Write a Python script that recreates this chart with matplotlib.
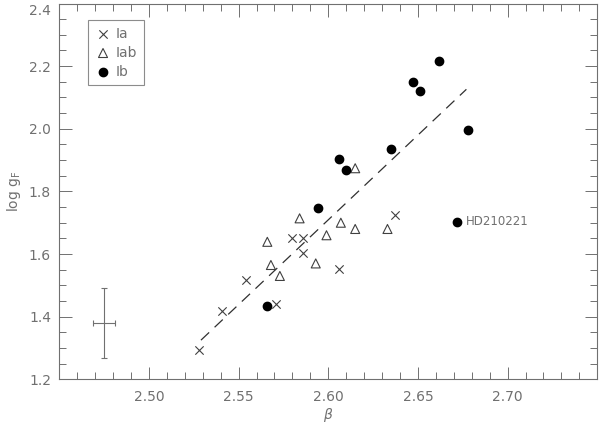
import numpy as np
import matplotlib
matplotlib.use("Agg")
import matplotlib.pyplot as plt
from matplotlib.ticker import MultipleLocator

# Ia supergiants (crosses)
ia_beta = [2.528, 2.541, 2.554, 2.571, 2.580, 2.586, 2.586, 2.606, 2.637]
ia_logg = [1.293, 1.419, 1.517, 1.440, 1.650, 1.650, 1.604, 1.552, 1.725]

# Iab supergiants (triangles)
iab_beta = [2.566, 2.568, 2.573, 2.584, 2.593, 2.599, 2.607, 2.615, 2.615, 2.633]
iab_logg = [1.639, 1.565, 1.530, 1.714, 1.570, 1.660, 1.700, 1.680, 1.874, 1.680]

# Ib supergiants (filled circles)
ib_beta = [2.566, 2.594, 2.606, 2.610, 2.635, 2.647, 2.651, 2.662, 2.678, 2.672]
ib_logg = [1.434, 1.748, 1.905, 1.867, 1.935, 2.150, 2.120, 2.218, 1.995, 1.703]

# linear fit (dashed)
fit_beta = [2.529, 2.677]
fit_logg = [1.325, 2.126]

# typical error bar
err_beta, err_logg = 2.475, 1.379
err_dbeta, err_dlogg = 0.006, 0.112

xticks = [2.50, 2.55, 2.60, 2.65, 2.70]
yticks = [1.2, 1.4, 1.6, 1.8, 2.0, 2.2, 2.4]

grey = '#707070'

fig = plt.figure(figsize=(6, 4.28), dpi=100)
ax = fig.add_axes([0.0988, 0.1138, 0.8967, 0.878])

ax.plot(fit_beta, fit_logg, color='#303030', lw=0.9, dashes=(9, 6))
ax.scatter(ia_beta, ia_logg, marker='x', s=36, color='#404040', lw=0.8, label='Ia')
ax.scatter(iab_beta, iab_logg, marker='^', s=42, facecolors='none',
           edgecolors='#404040', lw=0.8, label='Iab')
ax.scatter(ib_beta, ib_logg, marker='o', s=36, color='black', label='Ib')
ax.errorbar(err_beta, err_logg, xerr=err_dbeta, yerr=err_dlogg, color=grey,
            lw=0.8, capsize=2.5, capthick=0.8)

ax.text(ib_beta[-1] + 0.0045, ib_logg[-1], 'HD210221', color=grey,
        fontsize=8.5, va='center', ha='left')

ax.set_xlim(2.45, 2.75)
ax.set_ylim(1.2, 2.4)
ax.xaxis.set_minor_locator(MultipleLocator(0.01))
ax.yaxis.set_minor_locator(MultipleLocator(0.05))
ax.set_xticks(xticks)
ax.set_xticklabels(['%.2f' % v for v in xticks])
ax.set_yticks(yticks)
ax.set_yticklabels(['%.1f' % v for v in yticks])

ax.tick_params(which='both', direction='in', top=True, right=True,
               color=grey, labelcolor=grey, labelsize=10, width=0.7)
ax.tick_params(which='major', length=9, pad=6)
ax.tick_params(axis='x', which='major', pad=8)
ax.tick_params(which='minor', length=5)
for s in ax.spines.values():
    s.set_color(grey)
    s.set_linewidth(0.8)

# keep the top y label inside the figure
ax.get_yticklabels()[-1].set_va('top')

ax.set_xlabel(r'$\beta$', color=grey, fontsize=10, labelpad=1)
ax.set_ylabel(r'log g$_{\rm F}$', color=grey, fontsize=10, labelpad=4)

leg = ax.legend(loc='upper left', bbox_to_anchor=(0.04, 0.975), frameon=True,
                fancybox=False, edgecolor=grey, fontsize=10, handletextpad=0.3,
                borderpad=0.5, labelspacing=0.35, handlelength=1.2)
leg.get_frame().set_linewidth(0.8)
for t in leg.get_texts():
    t.set_color(grey)

fig.savefig('out.png', dpi=100)
